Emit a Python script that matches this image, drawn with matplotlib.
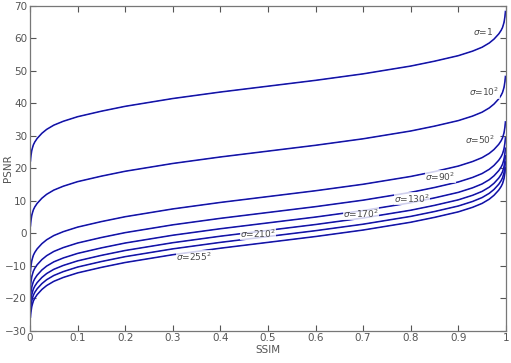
import matplotlib
matplotlib.use("Agg")
import matplotlib.pyplot as plt
import numpy as np

ssim = [0.001, 0.002, 0.004, 0.007, 0.01, 0.015, 0.025, 0.035, 0.05, 0.07, 0.1, 0.15,
        0.2, 0.25, 0.3, 0.35, 0.4, 0.45, 0.5, 0.55, 0.6, 0.65, 0.7, 0.75, 0.8, 0.85,
        0.9, 0.93, 0.95, 0.965, 0.975, 0.985, 0.99, 0.993, 0.996, 0.998, 0.999]

psnr_1 = [22.3, 23.9, 25.7, 27.2, 28.1, 29.2, 30.8, 32.0, 33.3, 34.5, 35.9, 37.6, 39.1, 40.3, 41.5, 42.5, 43.5, 44.4, 45.3,
          46.2, 47.1, 48.1, 49.1, 50.3, 51.5, 53.0, 54.7, 56.1, 57.3, 58.6, 59.8, 61.4, 62.5, 63.4, 64.9, 66.7, 68.3]
psnr_10 = [2.3, 3.9, 5.7, 7.2, 8.1, 9.2, 10.8, 12.0, 13.3, 14.5, 15.9, 17.6, 19.1, 20.3, 21.5, 22.5, 23.5, 24.4, 25.3,
           26.2, 27.1, 28.1, 29.1, 30.3, 31.5, 33.0, 34.7, 36.1, 37.3, 38.6, 39.8, 41.4, 42.5, 43.4, 44.9, 46.7, 48.3]
psnr_50 = [-11.7, -10.1, -8.3, -6.8, -5.9, -4.8, -3.2, -2.0, -0.7, 0.5, 1.9, 3.6, 5.1, 6.3, 7.5, 8.5, 9.5, 10.4, 11.3,
           12.2, 13.1, 14.1, 15.1, 16.3, 17.5, 19.0, 20.7, 22.1, 23.3, 24.6, 25.8, 27.4, 28.5, 29.4, 30.9, 32.7, 34.3]
psnr_90 = [-16.6, -15.0, -13.2, -11.7, -10.8, -9.7, -8.1, -6.9, -5.6, -4.4, -3.0, -1.3, 0.2, 1.4, 2.6, 3.6, 4.6, 5.5, 6.4,
           7.3, 8.2, 9.2, 10.2, 11.4, 12.6, 14.1, 15.8, 17.2, 18.4, 19.7, 20.9, 22.5, 23.6, 24.5, 26.0, 27.8, 29.4]
psnr_130 = [-19.8, -18.2, -16.4, -14.9, -14.0, -12.9, -11.3, -10.1, -8.8, -7.6, -6.2, -4.5, -3.0, -1.8, -0.6, 0.4, 1.4, 2.3, 3.2,
            4.1, 5.0, 6.0, 7.0, 8.2, 9.4, 10.9, 12.6, 14.0, 15.2, 16.5, 17.7, 19.3, 20.4, 21.3, 22.8, 24.6, 26.2]
psnr_170 = [-22.1, -20.5, -18.7, -17.2, -16.3, -15.2, -13.6, -12.4, -11.1, -9.9, -8.5, -6.8, -5.3, -4.1, -2.9, -1.9, -0.9, 0.0, 0.9,
            1.8, 2.7, 3.7, 4.7, 5.9, 7.1, 8.6, 10.3, 11.7, 12.9, 14.2, 15.4, 17.0, 18.1, 19.0, 20.5, 22.3, 23.9]
psnr_210 = [-24.0, -22.4, -20.6, -19.1, -18.2, -17.1, -15.5, -14.3, -13.0, -11.8, -10.4, -8.7, -7.2, -6.0, -4.8, -3.8, -2.8, -1.9, -1.0,
            -0.1, 0.8, 1.8, 2.8, 4.0, 5.2, 6.7, 8.4, 9.8, 11.0, 12.3, 13.5, 15.1, 16.2, 17.1, 18.6, 20.4, 22.0]
psnr_255 = [-25.8, -24.2, -22.4, -20.9, -20.0, -18.9, -17.3, -16.1, -14.8, -13.6, -12.2, -10.5, -9.0, -7.8, -6.6, -5.6, -4.6, -3.7, -2.8,
            -1.9, -1.0, 0.0, 1.0, 2.2, 3.4, 4.9, 6.6, 8.0, 9.2, 10.5, 11.7, 13.3, 14.4, 15.3, 16.8, 18.6, 20.2]

curves = [psnr_1, psnr_10, psnr_50, psnr_90, psnr_130, psnr_170, psnr_210, psnr_255]
labels = [r"$\sigma$=1", r"$\sigma$=10$^2$", r"$\sigma$=50$^2$", r"$\sigma$=90$^2$",
          r"$\sigma$=130$^2$", r"$\sigma$=170$^2$", r"$\sigma$=210$^2$", r"$\sigma$=255$^2$"]
label_x = [0.952, 0.955, 0.946, 0.862, 0.803, 0.696, 0.479, 0.345]
label_y = [62.2, 43.5, 28.8, 17.4, 10.6, 6.1, -0.1, -7.2]

plt.rcParams['mathtext.fontset'] = 'dejavusans'
grey = '#555555'

fig = plt.figure(figsize=(5.11, 3.63), dpi=100)
ax = fig.add_axes([0.0587, 0.089, 0.9313, 0.8945])

for c in curves:
    ax.plot(ssim, c, color='#1a1ad8', lw=1.15)
    ax.plot(ssim, c, color='#161660', lw=0.4)

for t, lx, ly in zip(labels, label_x, label_y):
    ax.text(lx, ly, t, fontsize=6.5, color='#4a4a4a', ha='center', va='center',
            bbox=dict(facecolor='white', edgecolor='none', pad=0.2, alpha=0.8))

ax.set_xlim(0, 1)
ax.set_ylim(-30, 70)
ax.set_xticks(np.arange(0, 1.01, 0.1))
ax.set_xticklabels(["0", "0.1", "0.2", "0.3", "0.4", "0.5", "0.6", "0.7", "0.8", "0.9", "1"])
ax.set_yticks(np.arange(-30, 71, 10))
ax.tick_params(direction='in', length=4, width=0.8, colors=grey, labelsize=7.5,
               top=True, right=True, pad=2)
for s in ax.spines.values():
    s.set_color('#777777')
    s.set_linewidth(0.9)
ax.set_xlabel("SSIM", fontsize=7.5, color=grey, labelpad=1)
ax.set_ylabel("PSNR", fontsize=7.5, color=grey)
ax.yaxis.set_label_coords(-0.036, 0.5)

fig.savefig("out.png", dpi=100)
